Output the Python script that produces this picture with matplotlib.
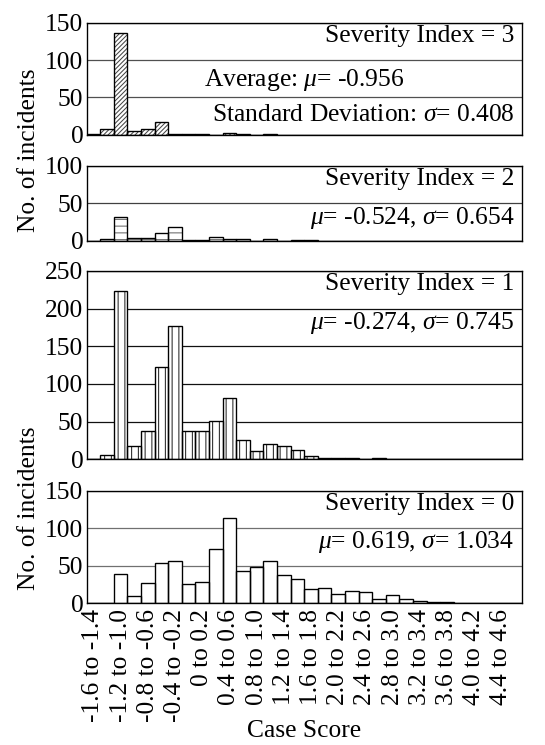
import numpy as np
import matplotlib
matplotlib.use("Agg")
import matplotlib.pyplot as plt

# ---------------- data ----------------
bin_labels = ["-1.6 to -1.4", "-1.4 to -1.2", "-1.2 to -1.0", "-1.0 to -0.8",
              "-0.8 to -0.6", "-0.6 to -0.4", "-0.4 to -0.2", "-0.2 to 0",
              "0 to 0.2", "0.2 to 0.4", "0.4 to 0.6", "0.6 to 0.8",
              "0.8 to 1.0", "1.0 to 1.2", "1.2 to 1.4", "1.4 to 1.6",
              "1.6 to 1.8", "1.8 to 2.0", "2.0 to 2.2", "2.2 to 2.4",
              "2.4 to 2.6", "2.6 to 2.8", "2.8 to 3.0", "3.0 to 3.2",
              "3.2 to 3.4", "3.4 to 3.6", "3.6 to 3.8", "3.8 to 4.0",
              "4.0 to 4.2", "4.2 to 4.4", "4.4 to 4.6", "4.6 to 4.8"]

sev3_counts = [1, 8, 136, 5, 7, 17, 1, 0.5, 1, 0, 2.5, 1, 0, 1, 0, 0,
               0, 0, 0, 0, 0, 0, 0, 0, 0, 0, 0, 0, 0, 0, 0, 0]
sev2_counts = [0, 2, 32, 4, 4, 10, 19, 1.5, 1.5, 5, 2.2, 3, 0, 1.8, 0, 1.3,
               1.3, 0, 0, 0, 0, 0, 0, 0, 0, 0, 0, 0, 0, 0, 0, 0]
sev1_counts = [1, 6, 223, 18, 37, 123, 177, 38, 38, 51, 82, 26, 11, 20, 18, 13,
               4, 2, 2, 1.5, 0, 1.5, 0, 0.5, 0, 0, 0, 0, 0, 0, 0, 0]
sev0_counts = [1, 1, 39, 10, 27, 54, 57, 26, 29, 72, 114, 43, 49, 57, 38, 32,
               19, 21, 12.5, 16.5, 14.5, 6, 10.5, 6, 3.5, 1.8, 1.5, 0, 1, 1, 0, 1]

severity_levels = [3, 2, 1, 0]
y_max = [150, 100, 250, 150]
means = [-0.956, -0.524, -0.274, 0.619]
stds = [0.408, 0.654, 0.745, 1.034]
hatches = ["//////", "--", "||", ""]

# ---------------- style ----------------
DPI = 81.6
plt.rcParams["font.family"] = ["Liberation Serif", "DejaVu Serif"]
plt.rcParams["mathtext.fontset"] = "custom"
plt.rcParams["mathtext.rm"] = "Liberation Serif"
plt.rcParams["mathtext.it"] = "Liberation Serif:italic"
plt.rcParams["hatch.linewidth"] = 0.9
FS = 22.5

fig = plt.figure(figsize=(545 / DPI, 745 / DPI), dpi=DPI)

W, H = 545.0, 745.0
left_px, right_px = 86.7, 521.7
panels_px = [(22.7, 134.7), (165.7, 240.8), (271.0, 459.3), (490.7, 603.3)]
hatch_cols = ["#444444", "#666666", "#222222", "#444444"]
grid_cols = ["#505050", "#404040", "#111111", "#707070"]

all_counts = [sev3_counts, sev2_counts, sev1_counts, sev0_counts]
x = np.arange(len(bin_labels))

axes = []
for i, (top, bot) in enumerate(panels_px):
    ax = fig.add_axes([left_px / W, 1 - bot / H, (right_px - left_px) / W, (bot - top) / H])
    axes.append(ax)
    counts = all_counts[i]
    # hatch layer
    ax.bar(x, counts, width=1.0, color="white", edgecolor=hatch_cols[i],
           hatch=hatches[i] if hatches[i] else None, linewidth=0, zorder=2)
    # outline layer
    ax.bar(x, counts, width=1.0, fill=False, edgecolor="black",
           linewidth=1.2, zorder=3)
    ax.set_xlim(-0.5, len(bin_labels) - 0.5)
    ax.set_ylim(0, y_max[i])
    ax.set_yticks(np.arange(0, y_max[i] + 1, 50))
    ax.yaxis.grid(True, color=grid_cols[i], linewidth=1.1)
    ax.set_axisbelow(True)
    ax.tick_params(axis="y", length=0, pad=3, labelsize=FS)
    ax.tick_params(axis="x", length=0)
    for s in ax.spines.values():
        s.set_linewidth(1.2)
        s.set_color("black")
    if i < 3:
        ax.set_xticks([])
    else:
        ax.set_xticks(x[::2])
        ax.set_xticklabels(bin_labels[::2], rotation=90, fontsize=FS)
        ax.tick_params(axis="x", pad=5)

    ax.text(0.983, 1 - 13 / (bot - top), f"Severity Index = {severity_levels[i]}",
            transform=ax.transAxes, ha="right", va="center", fontsize=FS)

# annotations with mean / sd
ax3 = axes[0]
ax3.text((204 - left_px) / (right_px - left_px), 1 - (80 - 22.7) / 112.0,
         r"Average: $\mu$= " + f"{means[0]:.3f}",
         transform=ax3.transAxes, ha="left", va="center", fontsize=FS)
ax3.text(0.983, 1 - (115 - 22.7) / 112.0,
         r"Standard Deviation: $\sigma$= " + f"{stds[0]:.3f}",
         transform=ax3.transAxes, ha="right", va="center", fontsize=FS)

stat_y_px = [None, 218.0, 323.0, 541.7]
for i in range(1, 4):
    top, bot = panels_px[i]
    axes[i].text(0.983, 1 - (stat_y_px[i] - top) / (bot - top),
                 r"$\mu$= " + f"{means[i]:.3f}, " + r"$\sigma$= " + f"{stds[i]:.3f}",
                 transform=axes[i].transAxes, ha="right", va="center", fontsize=FS)

fig.text(29 / W, 1 - 150 / H, "No. of incidents", rotation=90, ha="center",
         va="center", fontsize=FS)
fig.text(29 / W, 1 - 508 / H, "No. of incidents", rotation=90, ha="center",
         va="center", fontsize=FS)
fig.text(304 / W, 1 - 731 / H, "Case Score", ha="center", va="center", fontsize=FS)

fig.savefig("out.png", dpi=DPI)
